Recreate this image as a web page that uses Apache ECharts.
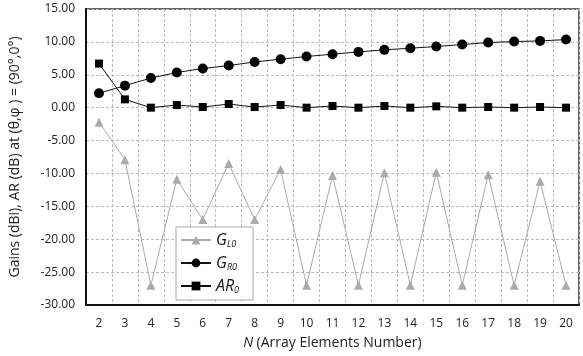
<!DOCTYPE html>
<html><head><meta charset="utf-8">
<script src="https://cdn.jsdelivr.net/npm/echarts@6/dist/echarts.min.js"></script>
<style>html,body{margin:0;padding:0;background:#fff}#c{width:583px;height:356px}</style>
</head><body><div id="c"></div>
<script>
const categories = ['2','3','4','5','6','7','8','9','10','11','12','13','14','15','16','17','18','19','20'];
const GL0 = [-2.2,-7.9,-27,-10.9,-17,-8.5,-17,-9.4,-27,-10.3,-27,-9.9,-27,-9.8,-27,-10.2,-27,-11.2,-27];
const GR0 = [2.2,3.35,4.5,5.35,5.95,6.4,6.95,7.37,7.78,8.13,8.48,8.79,9.04,9.29,9.6,9.9,10.05,10.15,10.35];
const AR0 = [6.7,1.26,0,0.4,0.1,0.55,0.1,0.4,0,0.25,0,0.25,0,0.2,0,0.1,0,0.1,0];
const yTicks = {min:-30, max:15, interval:5};
const font = 'Open Sans';
const chart = echarts.init(document.getElementById('c'));
const rich = {
  i:{fontStyle:'italic',fontSize:16,fontFamily:font,color:'#111'},
  s:{fontStyle:'italic',fontSize:9,fontFamily:font,color:'#111',verticalAlign:'bottom',padding:[9,0,0,0]}
};
chart.setOption({
  animation:false,
  grid:{left:86,right:4,top:9,bottom:51,show:true,borderColor:'#333',borderWidth:1.5},
  legend:{
    orient:'vertical', left:176, top:227, itemGap:6,
    backgroundColor:'#fff', borderColor:'#aaa', borderWidth:1, padding:[5,14,5,4],
    itemWidth:30, itemHeight:11,
    data:['GL0','GR0','AR0'],
    formatter:function(n){
      if(n==='GL0') return '{i|G}{s|L0}';
      if(n==='GR0') return '{i|G}{s|R0}';
      return '{i|AR}{s|0}';
    },
    textStyle:{rich:rich}
  },
  xAxis:{
    type:'category', data:categories, boundaryGap:true,
    name:'{i|N} {n|(Array Elements Number)}', nameLocation:'middle', nameGap:31,
    nameTextStyle:{rich:{i:{fontStyle:'italic',fontSize:14,fontFamily:font,color:'#222'},n:{fontSize:14,fontFamily:font,color:'#222'}}},
    axisLine:{onZero:false,lineStyle:{color:'#111',width:2}},
    axisTick:{show:false},
    axisLabel:{fontFamily:font,fontSize:12,color:'#222',margin:13},
    splitLine:{show:true,lineStyle:{color:'#bbb',type:[3,2],width:1}}
  },
  yAxis:{
    type:'value', min:yTicks.min, max:yTicks.max, interval:yTicks.interval,
    name:'Gains (dBi), AR (dB) at (θ,φ ) = (90°,0°)', nameLocation:'middle', nameGap:64,
    nameTextStyle:{fontFamily:font,fontSize:14,color:'#222'},
    axisLine:{show:true,lineStyle:{color:'#111',width:2}},
    axisTick:{show:false},
    axisLabel:{fontFamily:font,fontSize:12,color:'#222',margin:11,formatter:v=>v.toFixed(2)},
    splitLine:{show:true,lineStyle:{color:'#bbb',type:[3,2],width:1}}
  },
  series:[
    {name:'GL0',type:'line',data:GL0,symbol:'triangle',symbolSize:9,
     lineStyle:{color:'#aaa',width:1},itemStyle:{color:'#aaa'},z:2},
    {name:'GR0',type:'line',data:GR0,symbol:'circle',symbolSize:10,
     lineStyle:{color:'#111',width:1},itemStyle:{color:'#000'},z:3},
    {name:'AR0',type:'line',data:AR0,symbol:'rect',symbolSize:8,
     lineStyle:{color:'#111',width:1},itemStyle:{color:'#000'},z:3}
  ]
});
</script></body></html>
